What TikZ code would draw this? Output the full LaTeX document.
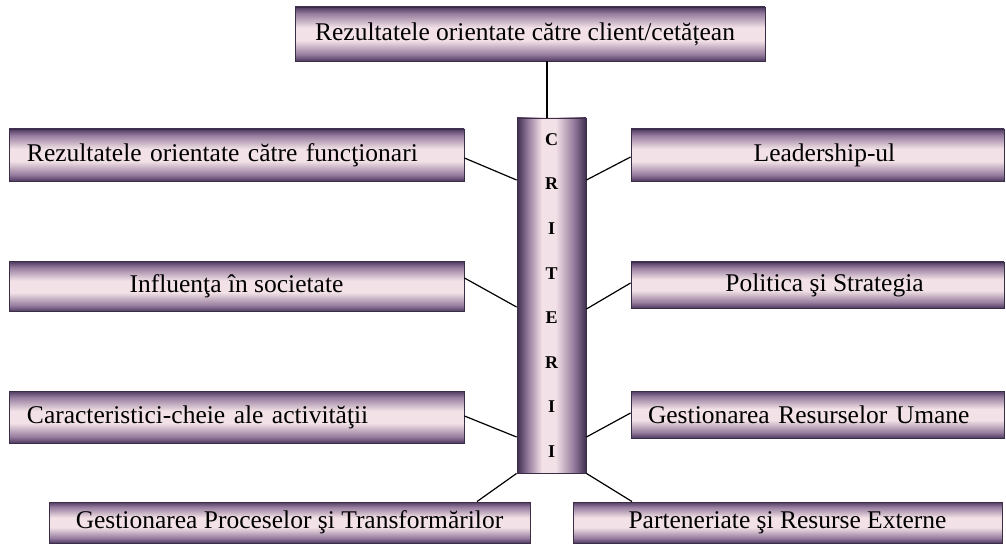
\documentclass[tikz,border=0pt]{standalone}
\usepackage{fontspec}
\setmainfont{Liberation Serif}
\definecolor{boxdark}{RGB}{78,58,96}
\definecolor{boxmid}{RGB}{150,124,158}
\definecolor{boxlight}{RGB}{242,225,230}
\definecolor{coldark}{RGB}{62,46,78}
\definecolor{boxline}{RGB}{58,46,70}
\pgfdeclareverticalshading{boxshade}{100bp}{color(0bp)=(boxdark); color(25bp)=(boxdark);
  color(31bp)=(boxmid); color(44bp)=(boxlight); color(56bp)=(boxlight);
  color(69bp)=(boxmid); color(75bp)=(boxdark); color(100bp)=(boxdark)}
\pgfdeclarehorizontalshading{colshade}{100bp}{color(0bp)=(coldark); color(25bp)=(coldark);
  color(33bp)=(boxmid); color(43bp)=(boxlight); color(53bp)=(boxlight);
  color(66bp)=(boxmid); color(75bp)=(coldark); color(100bp)=(coldark)}
\begin{document}
\begin{tikzpicture}[x=1pt,y=-1pt,
  crit/.style={draw=boxline, line width=0.9pt, rectangle, inner sep=0pt,
    shading=boxshade, font=\fontsize{25.5}{28}\selectfont, text=black},
  colbox/.style={draw=boxline, line width=0.9pt, rectangle, inner sep=0pt,
    shading=colshade, font=\bfseries\fontsize{18}{44.6}\selectfont, align=center},
  link/.style={draw=black, line width=1.2pt}]
\useasboundingbox (0,0) rectangle (1006,545);
\clip (0,0) rectangle (1006,545);

% central column
\node[colbox, minimum width=69pt, minimum height=355pt] (col) at (551.5,295.5)
  {C\\R\\I\\T\\E\\R\\I\\I};

% top box
\node[crit, minimum width=470pt, minimum height=54pt] (top) at (530,34)
  {\hspace*{-10pt}Rezultatele orientate către client/cetățean};

% left boxes
\node[crit, minimum width=455pt, minimum height=52pt, text width=419pt, align=left] (l1) at (236.5,155)
  {Rezultatele orientate către funcţionari};
\node[crit, minimum width=455pt, minimum height=50pt, align=center] (l2) at (236.5,286.5)
  {Influenţa în societate};
\node[crit, minimum width=455pt, minimum height=52pt, text width=419pt, align=left] (l3) at (236.5,417)
  {Caracteristici-cheie ale activităţii};

% right boxes
\node[crit, minimum width=373pt, minimum height=52pt, align=center] (r1) at (817.5,155)
  {\hspace*{14pt}Leadership-ul};
\node[crit, minimum width=373pt, minimum height=46pt, align=center] (r2) at (817.5,285)
  {\hspace*{14pt}Politica şi Strategia};
\node[crit, minimum width=373pt, minimum height=47pt, text width=339pt, align=left] (r3) at (817.5,414.5)
  {Gestionarea Resurselor Umane};

% bottom boxes
\node[crit, minimum width=481pt, minimum height=41pt, align=center] (bl) at (289.5,522.5)
  {Gestionarea Proceselor şi Transformărilor};
\node[crit, minimum width=429pt, minimum height=41pt, align=center] (br) at (787.5,522.5)
  {Parteneriate şi Resurse Externe};

% connectors
\draw[link] (top.south -| 547,0) -- (col.north -| 547,0);
\draw[link] (l1.east |- 0,158) -- (col.west |- 0,180);
\draw[link] (l2.east |- 0,278) -- (col.west |- 0,307);
\draw[link] (l3.east |- 0,416) -- (col.west |- 0,437);
\draw[link] (r1.west |- 0,157) -- (col.east |- 0,180);
\draw[link] (r2.west |- 0,283) -- (col.east |- 0,309);
\draw[link] (r3.west |- 0,413) -- (col.east |- 0,437);
\draw[link] (col.south west) -- (bl.north -| 477,0);
\draw[link] (col.south east) -- (br.north -| 632,0);
\end{tikzpicture}
\end{document}
